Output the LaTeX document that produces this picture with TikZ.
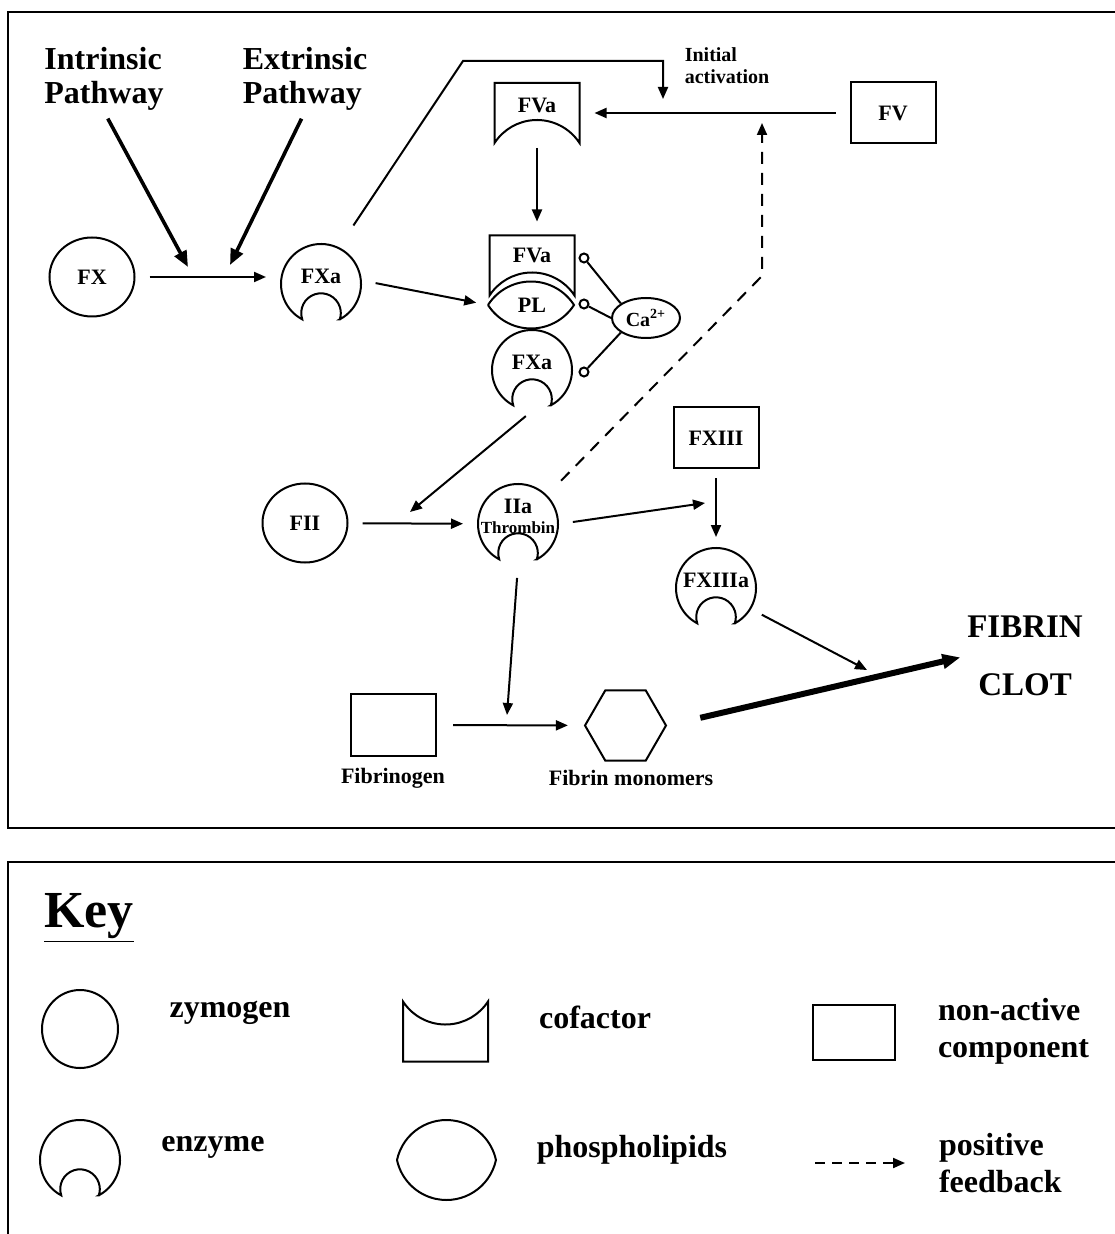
\documentclass[tikz,border=0pt]{standalone}
\usepackage{fontspec}
\setmainfont{Liberation Serif}
\usepackage{tikz}
\usetikzlibrary{arrows.meta, shapes.geometric, calc}

\tikzset{
  enzyme/.pic={
    \draw (-62:20pt) arc[start angle=-62, end angle=242, radius=20pt]
      arc[start angle=198.3, end angle=-18.3, radius=9.9pt] -- cycle;
  },
  cofactor/.pic={
    \draw (-21.25pt,15pt) -- (21.25pt,15pt) -- (21.25pt,-15pt)
      arc[start angle=33.15, end angle=146.85, radius=25.38pt] -- cycle;
  }
}

\begin{document}
\begin{tikzpicture}[
    x=0.5pt, y=-0.5pt, line width=1pt,
    >={Triangle[length=6pt, width=5pt]},
    lbl/.style={font=\fontsize{11}{13}\selectfont\bfseries},
    big/.style={font=\fontsize{16}{17}\selectfont\bfseries, inner sep=0pt, align=left},
    keytxt/.style={font=\fontsize{16}{18.5}\selectfont\bfseries, inner sep=0pt, align=left},
    zymo/.style={draw, ellipse, minimum width=42.5pt, minimum height=39.5pt, inner sep=0pt, lbl},
    inact/.style={draw, minimum width=42.5pt, minimum height=30.5pt, inner sep=0pt, lbl},
    enz/.style={circle, minimum size=40pt, inner sep=0pt, label={[lbl, yshift=4pt]center:#1}},
    cof/.style={minimum width=42.5pt, minimum height=30pt, inner sep=0pt},
    lens/.style={minimum width=43pt, minimum height=23.5pt, inner sep=0pt, lbl},
    lolli/.style={draw, circle, minimum size=4.5pt, inner sep=0pt},
    gap/.style={shorten <=#1, shorten >=#1},
    pathway/.style={->, line width=1.8pt, >={Triangle[length=8pt, width=6.5pt]}},
    fback/.style={->, dash pattern=on 6pt off 4.5pt}
]
\useasboundingbox (0,0) rectangle (1114,1234);

% ── Frames ──
\draw (8,12) rectangle (1130,828);
\draw (8,862) rectangle (1130,1250);

% ── Pathways into FX ──
\node[big] (intr) at (104,79) {Intrinsic\\Pathway};
\node[big] (extr) at (305,79) {Extrinsic\\Pathway};

\node[zymo] (fx) at (92,277) {FX};
\node[enz=FXa] (fxa) at (321,284) {};
\pic at (fxa) {enzyme};

\coordinate (inend) at (188,267);
\coordinate (exend) at (230,265);
\draw[pathway, shorten <=4pt] (intr.south) -- (inend);
\draw[pathway, shorten <=4pt] (extr.south) -- (exend);
\draw[->, gap=7pt] (fx.east) -- (fx.east -| fxa.west);

% ── FV activation ──
\node[font=\fontsize{10}{11}\selectfont\bfseries, align=left, inner sep=0pt] (init) at (727,66) {Initial\\activation};
\node[cof, label={[lbl, yshift=4pt]center:FVa}] (fva) at (537,113) {};
\pic at (fva) {cofactor};
\node[inact] (fv) at (893,113) {FV};

\coordinate (topc) at (463,61);
\coordinate (initend) at (663,99);
\draw[->, shorten <=13pt] (fxa.64) -- (topc) -| (initend);
\draw[->, gap=7pt] (fv) -- (fva);

% ── Prothrombinase complex ──
\node[cof, label={[lbl, yshift=5pt]center:FVa}] (cfva) at (532,265.5) {};
\pic at (cfva) {cofactor};
\node[lens] (pl) at (532,305) {PL};
\draw (pl.west) arc[start angle=147.3, end angle=32.7, radius=25.55pt]
      arc[start angle=-32.7, end angle=-147.3, radius=25.55pt];
\node[enz=FXa] (cfxa) at (532,370) {};
\pic at (cfxa) {enzyme};

\node[lolli] (l1) at (584,258) {};
\node[lolli] (l2) at (584,304) {};
\node[lolli] (l3) at (584,372) {};
\node[draw, ellipse, minimum width=34pt, minimum height=20pt, inner sep=0pt,
      font=\fontsize{10}{12}\selectfont\bfseries] (ca) at (646,318) {Ca\textsuperscript{2+}};
\draw (l1) -- (ca.150);
\draw (l2) -- (ca.west);
\draw (l3) -- (ca.210);

\draw[->, shorten <=2pt, shorten >=6.5pt] (fva.south) -- (fva.south |- cfva.north);
\draw[->, shorten <=7pt, shorten >=6pt] (fxa.5) -- (pl.west);

% ── Thrombin ──
\node[zymo] (fii) at (305,523) {FII};
\node[circle, minimum size=40pt, inner sep=0pt] (iia) at (518,524) {};
\pic at (iia) {enzyme};
\node[lbl, align=center, inner sep=0pt] (iiatxt) at (518,516) {IIa\\[-3pt]{\fontsize{8.5}{9}\selectfont Thrombin}};

\coordinate (iiain) at (410,512);
\draw[->, shorten <=4pt] (cfxa.south) -- (iiain);
\draw[->, gap=7pt] (fii) -- (iia);

\coordinate (fbbend) at (762,276);
\coordinate (fbtip) at (762,123);
\draw[fback, shorten <=10pt] (iia.45) -- (fbbend) -- (fbtip);

% ── FXIII ──
\node[inact] (fxiii) at (716,438) {FXIII};
\node[enz=FXIIIa] (fxiiia) at (716,588) {};
\pic at (fxiiia) {enzyme};

\coordinate (xiiiin) at (705,503);
\draw[->, shorten <=7pt] (iia.east) -- (xiiiin);
\draw[->, shorten <=4.5pt, shorten >=5pt] (fxiii) -- (fxiiia);

% ── Fibrin ──
\node[inact, minimum height=31pt] (fbg) at (393.5,725) {};
\node[lbl] (fbgtxt) at (393,778) {Fibrinogen};
\node[draw, regular polygon, regular polygon sides=6, minimum size=40.5pt, inner sep=0pt] (hex) at (625.5,725.5) {};
\node[lbl] (hextxt) at (631,778) {Fibrin monomers};
\node[font=\fontsize{16.5}{29}\selectfont\bfseries, align=center, inner sep=0pt] (clot) at (1025,656) {FIBRIN\\CLOT};

\coordinate (fibin) at (507,715);
\coordinate (clotin) at (867,670);
\draw[->, shorten <=6.5pt] (iia.south) -- (fibin);
\draw[->, gap=8pt] (fbg) -- (hex);
\draw[->, shorten <=6pt] (fxiiia.-31) -- (clotin);
\draw[->, line width=3pt, >={Triangle[length=9pt, width=7pt]}, shorten <=17pt, shorten >=3pt] (hex.east) -- (clot.west);

% ── Key ──
\node[font=\fontsize{26}{28}\selectfont\bfseries, inner sep=0pt] (keyhd) at (89,918) {\underline{Key}};

\node[zymo, minimum width=38pt, minimum height=39pt] (kzym) at (80,1029) {};
\node[keytxt] (kzymtxt) at (230,1013) {zymogen};

\node[cof, minimum height=31.5pt] (kcof) at (445.5,1031.5) {};
\pic[rotate=180] at (kcof) {cofactor};
\node[keytxt] (kcoftxt) at (595,1017) {cofactor};

\node[inact, minimum width=41pt, minimum height=27.5pt] (kina) at (854,1032) {};
\node[keytxt, anchor=west] (kinatxt) at (937,1031) {non-active\\component};

\coordinate (kenz) at (80,1160);
\pic at (kenz) {enzyme};
\node[keytxt] (kenztxt) at (213,1147) {enzyme};

\node[lens, minimum width=49.5pt, minimum height=40pt] (klens) at (447.5,1160) {};
\draw (klens.west) arc[start angle=167.9, end angle=12.1, radius=25.3pt]
      arc[start angle=-12.1, end angle=-167.9, radius=25.3pt];
\node[keytxt] (klenstxt) at (632,1150) {phospholipids};

\coordinate (kfb) at (815,1163);
\node[keytxt, anchor=west] (kfbtxt) at (938,1163) {positive\\feedback};
\draw[fback, dash pattern=on 5pt off 3.5pt, shorten >=16.5pt] (kfb) -- (kfbtxt.west);

\end{tikzpicture}
\end{document}
